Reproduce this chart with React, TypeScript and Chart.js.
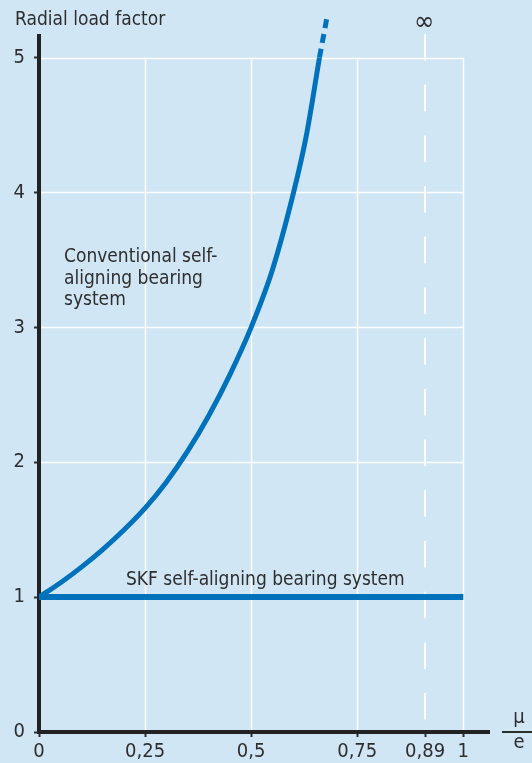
import React, { useEffect, useRef } from "react";
import { Chart, registerables } from "chart.js";

Chart.register(...registerables);

// Conventional self-aligning bearing system (solid part)
const muConventional = [0, 0.05, 0.1, 0.15, 0.2, 0.25, 0.3, 0.35, 0.4, 0.45, 0.5, 0.55, 0.6, 0.63, 0.661];
const loadConventional = [1, 1.105, 1.2225, 1.3525, 1.4975, 1.66, 1.8525, 2.08, 2.345, 2.65, 3.0, 3.425, 4.0, 4.42, 5.0];
// Conventional: dotted extrapolation
const muExtrapolated = [0.661, 0.68];
const loadExtrapolated = [5.0, 5.32];
// SKF self-aligning bearing system
const muSKF = [0, 1];
const loadSKF = [1, 1];

const xTickValues = [0, 0.25, 0.5, 0.75, 0.91, 1];
const xTickLabels = ["0", "0,25", "0,5", "0,75", "0,89", "1"];
const yTickValues = [0, 1, 2, 3, 4, 5];
const yTickLabels = ["0", "1", "2", "3", "4", "5"];
const infinityMu = 0.91;
const gridMaxX = 1;
const gridMaxY = 5;

const BG = "#d1e6f5";
const BLUE = "#0072bc";
const INK = "#2e2e2e";
const FONT = '"Liberation Sans Narrow", "DejaVu Sans Condensed", Roboto, sans-serif';

const toXY = (xs: number[], ys: number[]) => xs.map((x, i) => ({ x, y: ys[i] }));

const decor = {
  id: "decor",
  beforeDraw(chart: any) {
    const { ctx, scales } = chart;
    const xs = scales.x;
    const ys = scales.y;
    ctx.save();
    ctx.strokeStyle = "rgba(255,255,255,0.95)";
    ctx.lineWidth = 1.5;
    const x0 = xs.getPixelForValue(0);
    const x1 = xs.getPixelForValue(gridMaxX);
    const y0 = ys.getPixelForValue(0);
    const y1 = ys.getPixelForValue(gridMaxY);
    yTickValues.forEach((v) => {
      if (v <= 0) return;
      const py = Math.round(ys.getPixelForValue(v)) + 0.5;
      ctx.beginPath();
      ctx.moveTo(x0, py);
      ctx.lineTo(x1 + 0.75, py);
      ctx.stroke();
    });
    xTickValues.forEach((v) => {
      if (v <= 0 || v === infinityMu) return;
      const px = Math.round(xs.getPixelForValue(v)) + 0.5;
      ctx.beginPath();
      ctx.moveTo(px, y0);
      ctx.lineTo(px, y1);
      ctx.stroke();
    });
    // dashed asymptote line
    const pxInf = Math.round(xs.getPixelForValue(infinityMu));
    ctx.lineWidth = 2;
    ctx.setLineDash([26.5, 24.2]);
    ctx.beginPath();
    ctx.moveTo(pxInf, 34);
    ctx.lineTo(pxInf, 719.5);
    ctx.stroke();
    ctx.restore();
  },
  afterDraw(chart: any) {
    const { ctx, scales } = chart;
    const xs = scales.x;
    ctx.save();
    ctx.fillStyle = INK;
    ctx.textAlign = "left";
    ctx.textBaseline = "alphabetic";
    ctx.font = `19px ${FONT}`;
    ctx.fillText("Radial load factor", 15, 25);
    ctx.fillText("Conventional self-", 64, 262);
    ctx.fillText("aligning bearing", 64, 283.5);
    ctx.fillText("system", 64, 305);
    ctx.fillText("SKF self-aligning bearing system", 126, 585);
    // infinity symbol
    ctx.textAlign = "center";
    ctx.font = `27px ${FONT}`;
    ctx.fillText("\u221e", xs.getPixelForValue(infinityMu) - 1, 30);
    // mu / e
    ctx.font = `20px ${FONT}`;
    ctx.fillText("\u03bc", 519, 723);
    ctx.fillText("e", 519, 748);
    ctx.strokeStyle = INK;
    ctx.lineWidth = 2;
    ctx.beginPath();
    ctx.moveTo(502, 732);
    ctx.lineTo(532, 732);
    ctx.stroke();
    ctx.restore();
  },
};

export default function App() {
  const ref = useRef<HTMLCanvasElement | null>(null);
  useEffect(() => {
    if (!ref.current) return;
    const chart = new Chart(ref.current, {
      type: "line",
      data: {
        datasets: [
          {
            data: toXY(muSKF, loadSKF),
            borderColor: BLUE,
            borderWidth: 6,
            pointRadius: 0,
            borderCapStyle: "butt",
            tension: 0,
          },
          {
            data: toXY(muConventional, loadConventional),
            borderColor: BLUE,
            borderWidth: 5,
            pointRadius: 0,
            cubicInterpolationMode: "monotone",
            borderCapStyle: "butt",
          },
          {
            data: toXY(muExtrapolated, loadExtrapolated),
            borderColor: BLUE,
            borderWidth: 5,
            pointRadius: 0,
            borderDash: [9, 6],
            borderCapStyle: "butt",
            clip: false,
          } as any,
        ],
      },
      options: {
        responsive: false,
        animation: false,
        devicePixelRatio: 1,
        layout: { padding: { top: 36, right: 43, left: 0, bottom: 0 } },
        plugins: { legend: { display: false }, tooltip: { enabled: false } },
        scales: {
          x: {
            type: "linear",
            min: 0,
            max: 1.0606,
            afterFit: (s: any) => {
              s.height = 31;
            },
            afterBuildTicks: (s: any) => {
              s.ticks = xTickValues.map((v) => ({ value: v }));
            },
            ticks: {
              autoSkip: false,
              maxRotation: 0,
              padding: 3,
              color: INK,
              font: { family: FONT, size: 20 },
              callback: (v: any) => xTickLabels[xTickValues.indexOf(Number(v))],
            },
            grid: { drawOnChartArea: false, tickLength: 5, tickWidth: 2, tickColor: INK },
            border: { color: "#222", width: 4 },
          },
          y: {
            type: "linear",
            min: 0,
            max: 5.16,
            afterFit: (s: any) => {
              s.width = 39;
            },
            afterBuildTicks: (s: any) => {
              s.ticks = yTickValues.map((v) => ({ value: v }));
            },
            ticks: {
              padding: 9,
              color: INK,
              font: { family: FONT, size: 20 },
              callback: (v: any) => yTickLabels[yTickValues.indexOf(Number(v))],
            },
            grid: { drawOnChartArea: false, tickLength: 5, tickWidth: 2, tickColor: INK },
            border: { color: "#222", width: 4 },
          },
        },
      } as any,
      plugins: [decor],
    });
    return () => chart.destroy();
  }, []);
  return (
    <div style={{ position: "absolute", left: 0, top: 0, width: 532, height: 763, background: BG }}>
      <canvas ref={ref} width={532} height={763} style={{ display: "block" }} />
    </div>
  );
}
